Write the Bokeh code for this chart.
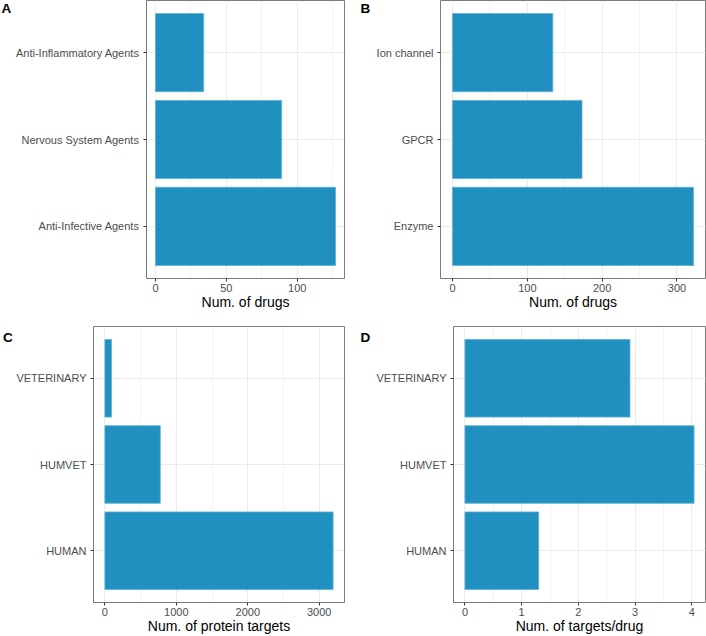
from bokeh.plotting import figure
from bokeh.models import Range1d, FactorRange, FixedTicker, Label, ColumnDataSource
from bokeh.layouts import column, row
from bokeh.embed import file_html
from bokeh.resources import INLINE

# ---- data ----
cat_a = ["Anti-Infective Agents", "Nervous System Agents", "Anti-Inflammatory Agents"]
val_a = [127, 89, 34]
ticks_a = [0, 50, 100]
minor_a = [25, 75, 125]

cat_b = ["Enzyme", "GPCR", "Ion channel"]
val_b = [322, 173, 134]
ticks_b = [0, 100, 200, 300]
minor_b = [50, 150, 250]

cat_c = ["HUMAN", "HUMVET", "VETERINARY"]
val_c = [3194, 775, 92]
ticks_c = [0, 1000, 2000, 3000]
minor_c = [500, 1500, 2500]

cat_d = ["HUMAN", "HUMVET", "VETERINARY"]
val_d = [1.30, 4.04, 2.91]
ticks_d = [0, 1, 2, 3, 4]
minor_d = [0.5, 1.5, 2.5, 3.5]

FONT = "Liberation Sans"
BAR = "#1F90BF"
H = 318


def panel(cats, vals, ticks, minor, xlabel, w, bl, br, bt, bb):
    m = max(vals)
    p = figure(width=w, height=H, output_backend="svg", toolbar_location=None,
               x_range=Range1d(-0.05 * m, 1.05 * m),
               y_range=FactorRange(factors=cats, range_padding=0.1,
                                   range_padding_units="absolute"),
               min_border_left=bl, min_border_right=br,
               min_border_top=bt, min_border_bottom=bb)
    src = ColumnDataSource(dict(y=cats, v=vals))
    p.hbar(y="y", left=0, right="v", height=0.9, source=src,
           fill_color=BAR, line_color="#5FB0D6", line_width=0.8)

    p.outline_line_color = "#7A7A7A"
    p.outline_line_width = 1

    p.xaxis.ticker = FixedTicker(ticks=ticks, minor_ticks=minor)
    for ax in (p.xaxis, p.yaxis):
        ax.axis_line_color = None
        ax.major_tick_in = 0
        ax.major_tick_out = 3
        ax.major_tick_line_color = "#333333"
        ax.minor_tick_in = 0
        ax.minor_tick_out = 0
        ax.major_label_text_font = FONT
        ax.major_label_text_font_size = "11px"
        ax.major_label_text_color = "#4D4D4D"
    p.xaxis.major_label_standoff = 2
    p.yaxis.major_label_standoff = 4
    p.xaxis.axis_label = xlabel
    p.xaxis.axis_label_text_font = FONT
    p.xaxis.axis_label_text_font_size = "14px"
    p.xaxis.axis_label_text_font_style = "normal"
    p.xaxis.axis_label_text_color = "#000000"
    p.xaxis.axis_label_standoff = -1

    p.xgrid.grid_line_color = "#EBEBEB"
    p.xgrid.grid_line_width = 1
    p.xgrid.minor_grid_line_color = "#EBEBEB"
    p.xgrid.minor_grid_line_width = 0.6
    p.ygrid.grid_line_color = "#EBEBEB"
    p.ygrid.grid_line_width = 1
    return p


def letter_fig(text, w, lx, cy):
    f = figure(width=w, height=H, output_backend="svg", toolbar_location=None,
               x_range=Range1d(0, w), y_range=Range1d(H, 0),
               x_axis_type=None, y_axis_type=None, min_border=0)
    f.outline_line_color = None
    f.grid.visible = False
    f.add_layout(Label(x=lx, y=cy, text=text, text_font=FONT,
                       text_font_style="bold", text_font_size="13.5px",
                       text_baseline="middle", text_align="left",
                       text_color="#000000"))
    return f


pa = panel(cat_a, val_a, ticks_a, minor_a, "Num. of drugs", 340, 133, 9, 0, 40)
pb = panel(cat_b, val_b, ticks_b, minor_b, "Num. of drugs", 333, 66, 1, 0, 40)
pc = panel(cat_c, val_c, ticks_c, minor_c, "Num. of protein targets", 340, 79, 9, 8, 33)
pd = panel(cat_d, val_d, ticks_d, minor_d, "Num. of targets/drug", 333, 80, 1, 8, 33)

la = letter_fig("A", 13, 1, 8.7)
lb = letter_fig("B", 20, 7, 9)
lc = letter_fig("C", 13, 2.5, 13)
ld = letter_fig("D", 20, 7, 13)

layout = column(row(la, pa, lb, pb), row(lc, pc, ld, pd))

open("out.html", "w").write(file_html(layout, INLINE))
